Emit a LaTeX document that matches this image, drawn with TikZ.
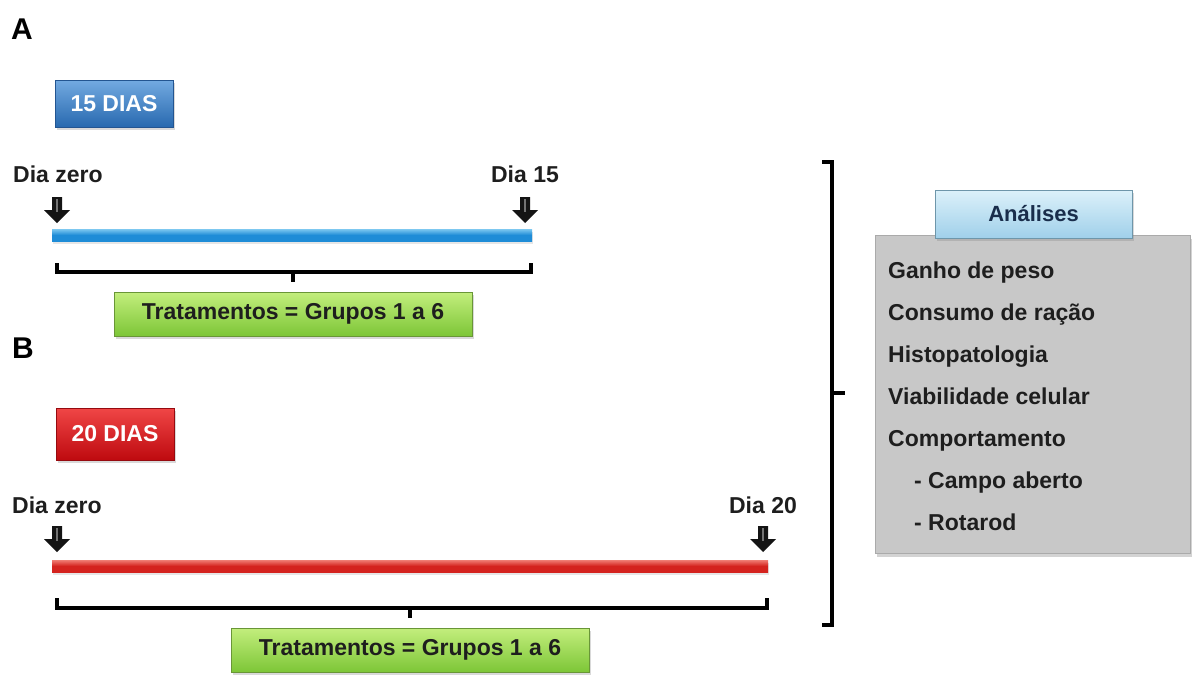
\documentclass[tikz,border=0pt]{standalone}
\usepackage{fontspec}
\setmainfont{Liberation Sans}
\usetikzlibrary{shadows}
\definecolor{blueTop}{RGB}{115,170,225}
\definecolor{blueBot}{RGB}{40,105,175}
\definecolor{blueEdge}{RGB}{35,85,145}
\definecolor{redTop}{RGB}{240,70,70}
\definecolor{redBot}{RGB}{190,10,15}
\definecolor{redEdge}{RGB}{150,10,15}
\definecolor{greenTop}{RGB}{195,238,125}
\definecolor{greenBot}{RGB}{125,198,55}
\definecolor{greenEdge}{RGB}{105,150,55}
\definecolor{tabTop}{RGB}{220,241,250}
\definecolor{tabBot}{RGB}{160,208,234}
\definecolor{tabEdge}{RGB}{110,150,170}
\definecolor{panelGray}{RGB}{200,200,200}
\definecolor{panelEdge}{RGB}{170,170,170}
\definecolor{barBlue}{RGB}{30,140,215}
\definecolor{barBlueHi}{RGB}{125,200,240}
\definecolor{barRed}{RGB}{212,35,30}
\definecolor{barRedHi}{RGB}{240,125,115}
\definecolor{txtDark}{RGB}{30,30,30}
\definecolor{tabText}{RGB}{25,45,75}
\tikzset{
  panellabel/.style={font=\fontsize{30}{30}\selectfont\bfseries, inner sep=0pt},
  daybox/.style={minimum width=118pt, inner sep=0pt, text=white,
    font=\fontsize{23}{23}\selectfont\bfseries, line width=0.8pt,
    drop shadow={shadow xshift=2pt, shadow yshift=-3pt, opacity=0.3}},
  daytext/.style={font=\fontsize{23}{23}\selectfont\bfseries, text=txtDark, inner sep=0pt},
  timebar/.style={minimum height=12pt, inner sep=0pt,
    drop shadow={shadow xshift=1pt, shadow yshift=-3pt, opacity=0.2}},
  trbox/.style={minimum width=358pt, minimum height=44pt, inner sep=0pt,
    top color=greenTop, bottom color=greenBot, draw=greenEdge, line width=0.8pt,
    text=txtDark, font=\fontsize{23}{23}\selectfont\bfseries,
    drop shadow={shadow xshift=2pt, shadow yshift=-3pt, opacity=0.3}},
  bracestroke/.style={line width=3.6pt, black},
  item/.style={anchor=base west, inner sep=0pt, text=txtDark,
    font=\fontsize{23}{23}\selectfont\bfseries},
  downarr/.pic={
    \fill[black!92]
      (-5,-26) -- (5,-26) -- (5,-13) -- (13,-13) -- (0,0) -- (-13,-13) -- (-5,-13) -- cycle;
    \fill[black!55] (-1.2,-24) rectangle (1.2,-11);
  }
}
\begin{document}
\begin{tikzpicture}[x=1pt,y=-1pt]
\useasboundingbox (0,0) rectangle (1193,677);

% panel labels
\node[panellabel] (labA) at (22,29) {A};
\node[panellabel] (labB) at (23,348) {B};

% duration boxes
\node[daybox, minimum height=47pt, top color=blueTop, bottom color=blueBot, draw=blueEdge] (d15) at (114,103.5) {15 DIAS};
\node[daybox, minimum height=52pt, top color=redTop, bottom color=redBot, draw=redEdge] (d20) at (115,434) {20 DIAS};

% day labels
\node[daytext, anchor=base west] (a0) at (13,182) {Dia zero};
\node[daytext, anchor=base] (a15) at (525,182) {Dia 15};
\node[daytext, anchor=base west] (b0) at (12,513) {Dia zero};
\node[daytext, anchor=base] (b20) at (763,513) {Dia 20};

% time bars
\node[timebar, minimum width=480pt, top color=barBlueHi, bottom color=barBlue, middle color=barBlue] (barA) at (292,235) {};
\node[timebar, minimum width=716pt, top color=barRedHi, bottom color=barRed, middle color=barRed] (barB) at (410,566) {};

% arrows
\coordinate (tipA0) at (57,223);
\coordinate (tipA15) at (525,223);
\coordinate (tipB0) at (57,552);
\coordinate (tipB20) at (763,552);
\path (tipA0) pic {downarr};
\path (tipA15) pic {downarr};
\path (tipB0) pic {downarr};
\path (tipB20) pic {downarr};

% treatment boxes
\node[trbox] (trA) at (293,314) {Tratamentos = Grupos 1 a 6};
\node[trbox] (trB) at (410,650) {Tratamentos = Grupos 1 a 6};

% braces under bars
\coordinate (brA1) at (57,263);
\coordinate (brA2) at (531,263);
\coordinate (brAm) at (293,272);
\draw[bracestroke] (brA1) -- (57,272) -- (531,272) -- (brA2);
\draw[bracestroke] (brAm) -- (293,282);
\coordinate (brB1) at (57,598);
\coordinate (brB2) at (767,598);
\coordinate (brBm) at (410,608);
\draw[bracestroke] (brB1) -- (57,608) -- (767,608) -- (brB2);
\draw[bracestroke] (brBm) -- (410,618);

% big bracket
\coordinate (bkTop) at (822,162);
\coordinate (bkBot) at (822,625);
\coordinate (bkMid) at (832,393);
\draw[line width=4pt, black] (bkTop) -- (832,162) -- (832,625) -- (bkBot);
\draw[line width=4pt, black] (bkMid) -- (845,393);

% analyses panel
\node[minimum width=315pt, minimum height=318pt, inner sep=0pt,
      fill=panelGray, draw=panelEdge, line width=1pt,
      drop shadow={shadow xshift=2pt, shadow yshift=-4pt, opacity=0.35}] (panel) at (1032.5,394) {};
\node[minimum width=197pt, minimum height=48pt, inner sep=0pt,
      top color=tabTop, bottom color=tabBot, draw=tabEdge, line width=0.8pt,
      text=tabText, font=\fontsize{22}{22}\selectfont\bfseries,
      drop shadow={shadow xshift=1.5pt, shadow yshift=-3pt, opacity=0.3}] (tab) at (1033.5,214) {Análises};

\node[item] (i1) at (888,278) {Ganho de peso};
\node[item] (i2) at (888,320) {Consumo de ração};
\node[item] (i3) at (888,362) {Histopatologia};
\node[item] (i4) at (888,404) {Viabilidade celular};
\node[item] (i5) at (888,446) {Comportamento};
\node[item] (i6) at (914,488) {- Campo aberto};
\node[item] (i7) at (914,530) {- Rotarod};
\end{tikzpicture}
\end{document}
